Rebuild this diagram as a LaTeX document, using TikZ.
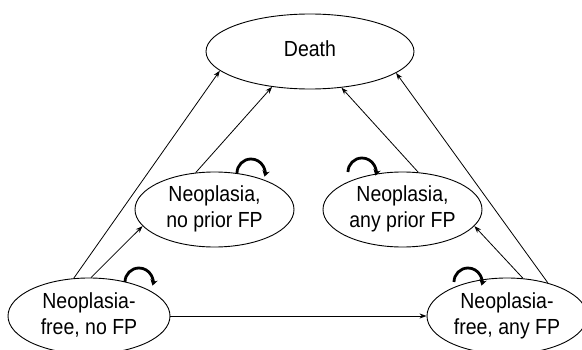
\documentclass[tikz,border=0pt]{standalone}
\usepackage{fontspec}
\setmainfont{Liberation Sans}
\usetikzlibrary{shapes.geometric,arrows.meta,calc}
\newcommand\stx[2][-3pt]{\raisebox{#1}{\scalebox{1}[1.12]{\begin{tabular}{@{}c@{}}#2\end{tabular}}}}
\tikzset{
  state/.style={draw, ellipse, line width=0.9pt, inner sep=0pt, align=center,
    font=\fontsize{19.5}{23.2}\selectfont},
  conn/.style={line width=0.8pt, -{Stealth[length=7pt,width=5pt]}},
  selfloop/.style={line width=2.8pt, -{Stealth[length=6pt,width=7.5pt]}}
}
\begin{document}
\begin{tikzpicture}[x=1pt,y=1pt]
\useasboundingbox (0,0) rectangle (582,349);
\node[state, minimum width=208pt, minimum height=75pt] (death) at (310,297.5) {\stx[0pt]{Death}};
\node[state, minimum width=159pt, minimum height=75pt] (n1) at (214.5,139.5) {\stx{Neoplasia,\\no prior FP}};
\node[state, minimum width=159pt, minimum height=75pt] (n2) at (402.5,139.5) {\stx{Neoplasia,\\any prior FP}};
\node[state, minimum width=162pt, minimum height=76pt] (f1) at (89,33) {\stx{Neoplasia-\\free, no FP}};
\node[state, minimum width=160pt, minimum height=76pt] (f2) at (507,33) {\stx{Neoplasia-\\free, any FP}};

\draw[conn] (f1.112.6) -- (death.192.4);
\draw[conn] (f1.87) -- (n1.193.4);
\draw[conn] (n1.117.5) -- (death.223.1);
\draw[conn] (n2.67.5) -- (death.311.2);
\draw[conn] (f2.67.4) -- (n2.347);
\draw[conn] (f2.39.2) -- (death.346.6);
\draw[conn] (f1.east) -- (f2.west);

\draw[selfloop] ($(n1.center)+(22.5,36.5)$) coordinate (l1) arc[start angle=180, end angle=-15, radius=14];
\draw[selfloop] ($(n2.center)+(-54.5,37.5)$) coordinate (l2) arc[start angle=180, end angle=-15, radius=14];
\draw[selfloop] ($(f1.center)+(36,34)$) coordinate (l3) arc[start angle=180, end angle=-15, radius=14];
\draw[selfloop] ($(f2.center)+(-53,34)$) coordinate (l4) arc[start angle=180, end angle=-15, radius=14];
\end{tikzpicture}
\end{document}
